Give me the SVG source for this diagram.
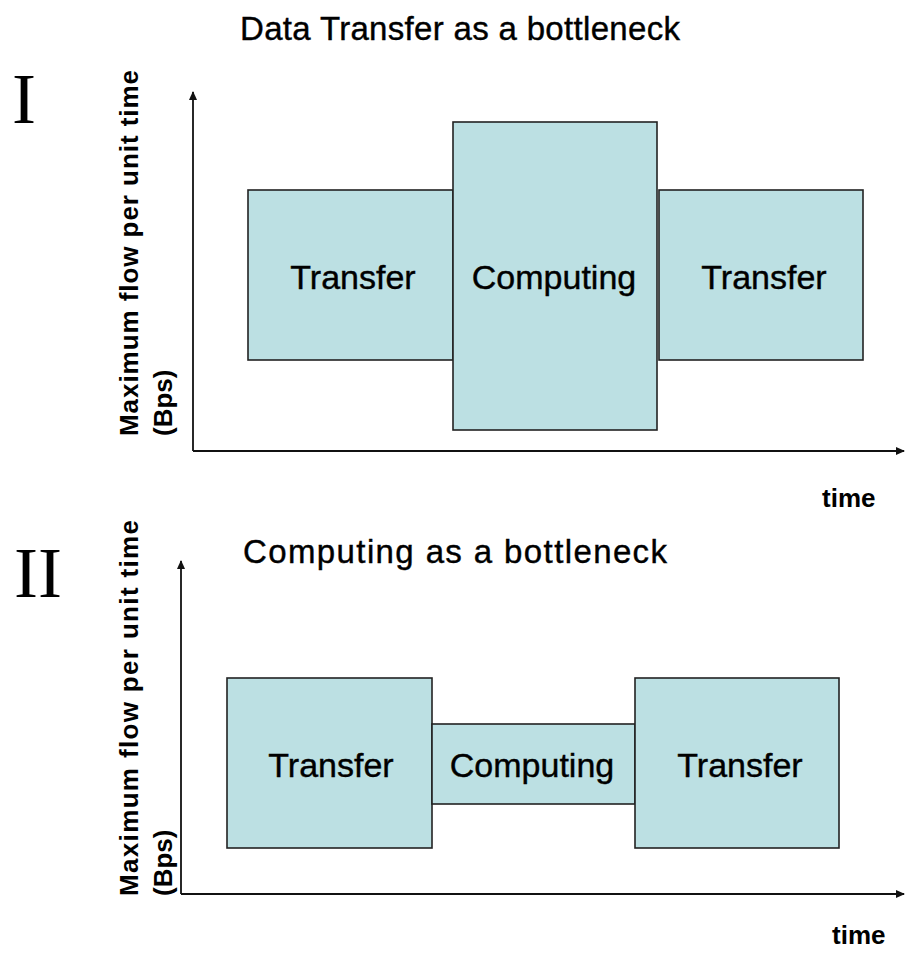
<svg xmlns="http://www.w3.org/2000/svg" width="910" height="953" viewBox="0 0 910 953">
<style>
.box{fill:#bce0e3;stroke:#222;stroke-width:1.6}
.lbl{font-family:"Liberation Sans",Arial,sans-serif;font-size:34px;fill:#000;text-anchor:middle;stroke:#000;stroke-width:0.4}
.ttl{font-family:"Liberation Sans",Arial,sans-serif;font-size:33px;fill:#000;stroke:#000;stroke-width:0.4}
.ax{font-family:"Liberation Sans",Arial,sans-serif;font-size:26px;font-weight:bold;fill:#000}
.rom{font-family:"Liberation Serif","Times New Roman",serif;font-size:72px;fill:#000}
.axis{stroke:#111;stroke-width:1.8;fill:none}
</style>
<defs>
<marker id="arr" markerWidth="10" markerHeight="10" refX="8" refY="4" orient="auto" markerUnits="userSpaceOnUse">
<path d="M0,0 L9,4 L0,8 z" fill="#111"/>
</marker>
</defs>
<rect width="910" height="953" fill="#fff"/>

<g id="panel1-labels">
<text class="ttl" x="240" y="40" textLength="440" lengthAdjust="spacing">Data Transfer as a bottleneck</text>
<text class="rom" x="12" y="123">I</text>
<text class="ax" transform="translate(138,436) rotate(-90)" textLength="366" lengthAdjust="spacing">Maximum flow per unit time</text>
<text class="ax" transform="translate(172,436) rotate(-90)">(Bps)</text>
<text class="ax" x="822" y="507" font-size="27">time</text>
</g>

<g id="connectors">
<path class="axis" d="M193,451 V92" marker-end="url(#arr)"/>
<path class="axis" d="M193,451 H904" marker-end="url(#arr)"/>
<path class="axis" d="M181,894 V561" marker-end="url(#arr)"/>
<path class="axis" d="M181,894 H904" marker-end="url(#arr)"/>
</g>

<g id="p1-transfer1"><rect class="box" x="248" y="190" width="205" height="170"/><text class="lbl" x="353" y="289">Transfer</text></g>
<g id="p1-computing"><rect class="box" x="453" y="122" width="204" height="308"/><text class="lbl" x="554" y="289">Computing</text></g>
<g id="p1-transfer2"><rect class="box" x="659" y="190" width="204" height="170"/><text class="lbl" x="764" y="289">Transfer</text></g>

<g id="panel2-labels">
<text class="ttl" x="243" y="563" textLength="424" lengthAdjust="spacing">Computing as a bottleneck</text>
<text class="rom" x="14" y="597">II</text>
<text class="ax" transform="translate(138,896) rotate(-90)" textLength="376" lengthAdjust="spacing">Maximum flow per unit time</text>
<text class="ax" transform="translate(172,896) rotate(-90)">(Bps)</text>
<text class="ax" x="832" y="944" font-size="27">time</text>
</g>

<g id="p2-transfer1"><rect class="box" x="227" y="678" width="205" height="170"/><text class="lbl" x="331" y="777">Transfer</text></g>
<g id="p2-computing"><rect class="box" x="432" y="724" width="203" height="80"/><text class="lbl" x="532" y="777">Computing</text></g>
<g id="p2-transfer2"><rect class="box" x="635" y="678" width="204" height="170"/><text class="lbl" x="740" y="777">Transfer</text></g>
</svg>
